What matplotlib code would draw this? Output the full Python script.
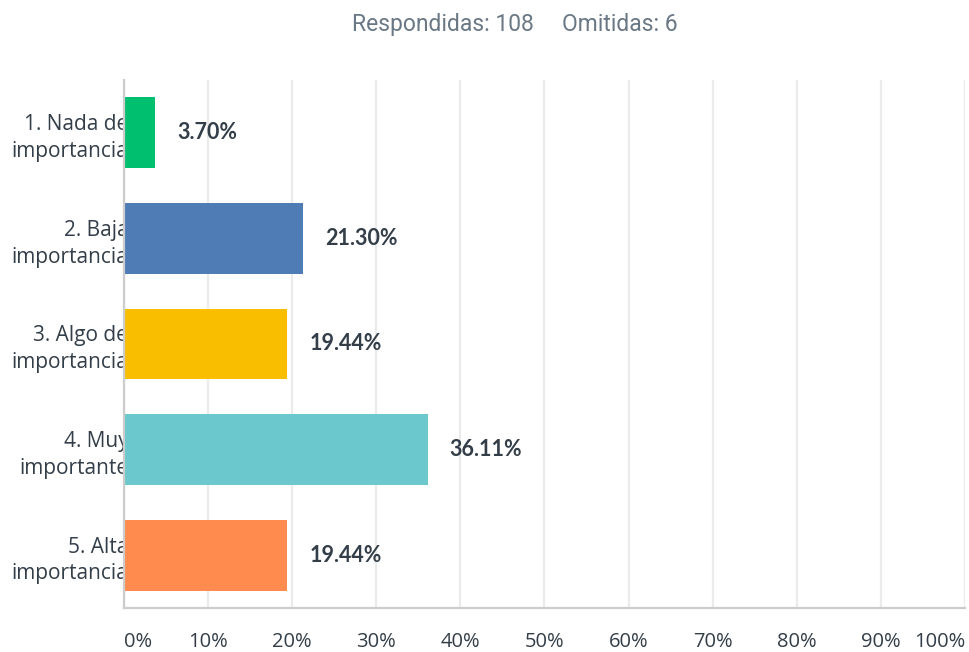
import matplotlib
matplotlib.use("Agg")
import matplotlib.pyplot as plt

categories = ["1. Nada de\nimportancia", "2. Baja\nimportancia", "3. Algo de\nimportancia",
              "4. Muy\nimportante", "5. Alta\nimportancia"]
values = [3.70, 21.30, 19.44, 36.11, 19.44]
colors = ["#00bf6f", "#507cb6", "#f9be00", "#6bc8cd", "#ff8b4f"]
xticks = [0, 10, 20, 30, 40, 50, 60, 70, 80, 90, 100]
xtick_labels = [f"{t}%" for t in xticks]
title = "Respondidas: 108     Omitidas: 6"

fig = plt.figure(figsize=(9.69, 6.52), dpi=100)
ax = fig.add_axes([124/969, 44/652, 841/969, 528/652])

ypos = list(range(len(categories)))
ax.barh(ypos, values, height=0.67, color=colors, zorder=2)
ax.set_ylim(len(categories) - 0.5, -0.5)
ax.set_xlim(0, 100)

for y, v in zip(ypos, values):
    ax.annotate(f"{v:.2f}%", xy=(v, y), xytext=(15.8, 0), textcoords="offset points",
                ha="left", va="center", fontsize=15.5, fontweight="bold",
                color="#333e48", family="Lato")

ax.set_yticks(ypos)
ax.set_yticklabels(categories, fontsize=15, color="#333e48", family="Open Sans",
                   linespacing=1.35)
ax.tick_params(axis="y", length=0, pad=-3)

ax.set_xticks(xticks)
ax.set_xticklabels(xtick_labels, fontsize=14.5, color="#333e48", family="Open Sans")
ax.tick_params(axis="x", length=0, pad=17)
labs = ax.get_xticklabels()
labs[0].set_horizontalalignment("left")
labs[-1].set_horizontalalignment("right")

ax.grid(axis="x", color="#ebebeb", linewidth=1.6, zorder=0)
ax.set_axisbelow(True)
for s in ["top", "right"]:
    ax.spines[s].set_visible(False)
ax.spines["left"].set_color("#cccccc")
ax.spines["left"].set_linewidth(1.6)
ax.spines["bottom"].set_color("#cccccc")
ax.spines["bottom"].set_linewidth(1.6)

fig.text(515/969, 1 - 24/652, title, ha="center", va="center", fontsize=16.5,
         color="#6a7885", family="Roboto")

fig.savefig("out.png", dpi=100, facecolor="white")
